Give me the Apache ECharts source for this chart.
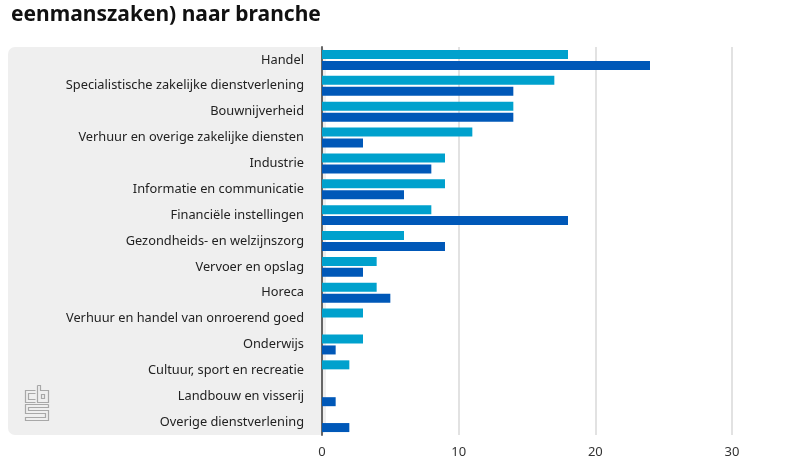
<!DOCTYPE html>
<html>
<head>
<meta charset="utf-8">
<script src="https://cdn.jsdelivr.net/npm/echarts@6/dist/echarts.min.js"></script>
<style>html,body{margin:0;padding:0;background:#fff;}#c{width:800px;height:475px;}</style>
</head>
<body>
<div id="c"></div>
<script>
var categories = ["Handel","Specialistische zakelijke dienstverlening","Bouwnijverheid","Verhuur en overige zakelijke diensten","Industrie","Informatie en communicatie","Financiële instellingen","Gezondheids- en welzijnszorg","Vervoer en opslag","Horeca","Verhuur en handel van onroerend goed","Onderwijs","Cultuur, sport en recreatie","Landbouw en visserij","Overige dienstverlening"];
var seriesA = [18,17,14,11,9,9,8,6,4,4,3,3,2,0,0];
var seriesB = [24,14,14,3,8,6,18,9,3,5,0,1,0,1,2];
var xTicks = [0,10,20,30];

var chart = echarts.init(document.getElementById('c'), null, {renderer:'canvas'});
var logoColor = '#a8a8a8';
chart.setOption({
  animation:false,
  title:{text:'eenmanszaken) naar branche', left:6, top:0,
    textStyle:{fontFamily:'Noto Sans', fontSize:21, fontWeight:'bold', color:'#111'}},
  graphic:[
    {type:'rect', z:-10, shape:{x:8,y:47,width:318,height:388,r:7}, style:{fill:'#efefef'}},
    {type:'group', left:23, top:383, children:[
      {type:'polyline', shape:{points:[[10,5],[0,5],[0,17],[10,17]]}, style:{stroke:logoColor,fill:null,lineWidth:1.2}},
      {type:'polyline', shape:{points:[[10,8],[3,8],[3,14],[10,14]]}, style:{stroke:logoColor,fill:null,lineWidth:1.2}},
      {type:'polyline', shape:{points:[[12,0],[12,17],[23,17],[23,5],[15,5],[15,0],[12,0]]}, style:{stroke:logoColor,fill:null,lineWidth:1.2}},
      {type:'rect', shape:{x:16,y:9,width:3,height:4}, style:{stroke:logoColor,fill:null,lineWidth:1.2}},
      {type:'polyline', shape:{points:[[23,19],[0,19],[0,28],[20,28],[20,32],[0,32],[0,35],[23,35],[23,25],[3,25],[3,22],[23,22],[23,19]]}, style:{stroke:logoColor,fill:null,lineWidth:1.2}}
    ]}
  ],
  grid:{left:322, right:68, top:47, bottom:40, containLabel:false},
  xAxis:{type:'value', min:0, max:30, interval:10,
    axisLine:{show:false}, axisTick:{show:false},
    splitLine:{show:true, lineStyle:{color:'#e2e2e2', width:2}},
    axisLabel:{color:'#333', fontFamily:'Noto Sans', fontSize:13, margin:11,
      formatter:function(v){return xTicks.indexOf(v)>=0?String(v):'';}}},
  yAxis:{type:'category', data:categories, inverse:true,
    axisLine:{show:true, lineStyle:{color:'#666', width:2}}, axisTick:{show:false},
    axisLabel:{color:'#222', fontFamily:'Noto Sans', fontSize:12.8, margin:18}},
  series:[
    {type:'bar', data:seriesA, barWidth:9, barGap:'22%', itemStyle:{color:'#00a1cd'}},
    {type:'bar', data:seriesB, barWidth:9, itemStyle:{color:'#0058b8'}}
  ]
});
</script>
</body>
</html>
